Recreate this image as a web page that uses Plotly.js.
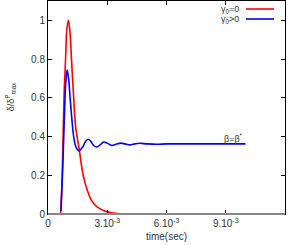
<!DOCTYPE html>
<html><head><meta charset="utf-8">
<script src="https://cdn.plot.ly/plotly-3.0.1.min.js"></script>
<style>html,body{margin:0;padding:0;background:#fff}</style>
</head><body><div id="chart" style="width:300px;height:245px"></div>
<script>
// time in seconds
var redT = [0.00064,0.00072,0.00081,0.00089,0.00096,0.00104,0.00112,0.00119,0.00130,0.00140,0.00158,0.00178,0.00200,0.00220,0.00250,0.00278,0.00320,0.00370];
var redY = [0.0,0.2,0.6,0.8,0.96,1.0,0.93,0.8,0.6,0.45,0.334,0.2,0.12,0.07,0.035,0.019,0.006,0.0];
var blueT = [0.00066,0.00075,0.00083,0.00090,0.00097,0.00104,0.00112,0.00120,0.00130,0.00142,0.00156,0.00175,0.00190,0.00203,0.00215,0.00230,0.00247,0.00265,0.00282,0.00300,0.00323,0.00345,0.00368,0.00390,0.00413,0.00440,0.00464,0.00500,0.00550,0.00600,0.00700,0.00800,0.00900,0.01000];
var blueY = [0.015,0.25,0.50,0.68,0.744,0.70,0.60,0.50,0.40,0.345,0.326,0.345,0.375,0.386,0.378,0.355,0.346,0.358,0.372,0.366,0.354,0.360,0.366,0.362,0.357,0.362,0.365,0.362,0.360,0.362,0.362,0.362,0.362,0.362];
var xTickVals = [0, 0.003, 0.006, 0.009];
var xTickText = ['0', '3.10<sup>-3</sup>', '6.10<sup>-3</sup>', '9.10<sup>-3</sup>'];
var yTickVals = [0, 0.2, 0.4, 0.6, 0.8, 1];
var yTickText = ['0', '0.2', '0.4', '0.6', '0.8', '1'];
var seriesNames = ['γ<sub>0</sub>=0', 'γ<sub>0</sub>>0'];

var font = 'Liberation Sans, Arial, sans-serif';
var traces = [
  {x: redT, y: redY, mode: 'lines', line: {color: '#ff0000', width: 1.6, shape: 'spline'}, name: seriesNames[0], showlegend: false},
  {x: blueT, y: blueY, mode: 'lines', line: {color: '#0000ff', width: 1.6, shape: 'spline'}, name: seriesNames[1], showlegend: false}
];
var layout = {
  width: 300, height: 245,
  margin: {l: 48, r: 15, t: 1, b: 31},
  paper_bgcolor: '#fff', plot_bgcolor: '#fff',
  font: {family: font, size: 10, color: '#333'},
  xaxis: {range: [0, 0.012], tickvals: xTickVals, ticktext: xTickText, ticks: 'inside', ticklen: 4, tickcolor: '#000',
    showline: true, linecolor: '#000', linewidth: 1, mirror: 'ticks', showgrid: false, zeroline: false,
    title: {text: 'time(sec)', font: {size: 10, color: '#333'}, standoff: 4}, tickfont: {size: 10}},
  yaxis: {range: [0, 1.1], tickvals: yTickVals, ticktext: yTickText, ticks: 'inside', ticklen: 4, tickcolor: '#000',
    showline: true, linecolor: '#000', linewidth: 1, mirror: 'ticks', showgrid: false, zeroline: false, tickfont: {size: 10}},
  shapes: [
    {type: 'line', xref: 'paper', yref: 'paper', x0: 0, x1: 1, y0: 0, y1: 0, line: {color: '#888', width: 2}},
    {type: 'line', xref: 'paper', yref: 'paper', x0: (246-48)/237, x1: (274-48)/237, y0: 1-(9-1)/212.7, y1: 1-(9-1)/212.7, line: {color: '#ff0000', width: 1.6}},
    {type: 'line', xref: 'paper', yref: 'paper', x0: (246-48)/237, x1: (274-48)/237, y0: 1-(19-1)/212.7, y1: 1-(19-1)/212.7, line: {color: '#0000ff', width: 1.6}}
  ],
  annotations: [
    {xref: 'paper', yref: 'paper', x: (10-48)/237, y: 1-(97-1)/212.7, xanchor: 'center', yanchor: 'middle', textangle: -90, text: 'δ/δ<sup>P</sup><sub>max</sub>', showarrow: false, font: {size: 9, color: '#333'}},
    {xref: 'paper', yref: 'paper', x: (241-48)/237, y: 1-(9-1)/212.7, xanchor: 'right', yanchor: 'middle', text: seriesNames[0], showarrow: false, font: {size: 9, color: '#333'}},
    {xref: 'paper', yref: 'paper', x: (241-48)/237, y: 1-(19-1)/212.7, xanchor: 'right', yanchor: 'middle', text: seriesNames[1], showarrow: false, font: {size: 9, color: '#333'}},
    {x: 0.00998, y: 0.362, xanchor: 'right', yanchor: 'bottom', text: 'β=β<sup>*</sup>', showarrow: false, font: {size: 9, color: '#333'}, yshift: -2}
  ]
};
Plotly.newPlot('chart', traces, layout, {displayModeBar: false, staticPlot: true});
</script></body></html>
